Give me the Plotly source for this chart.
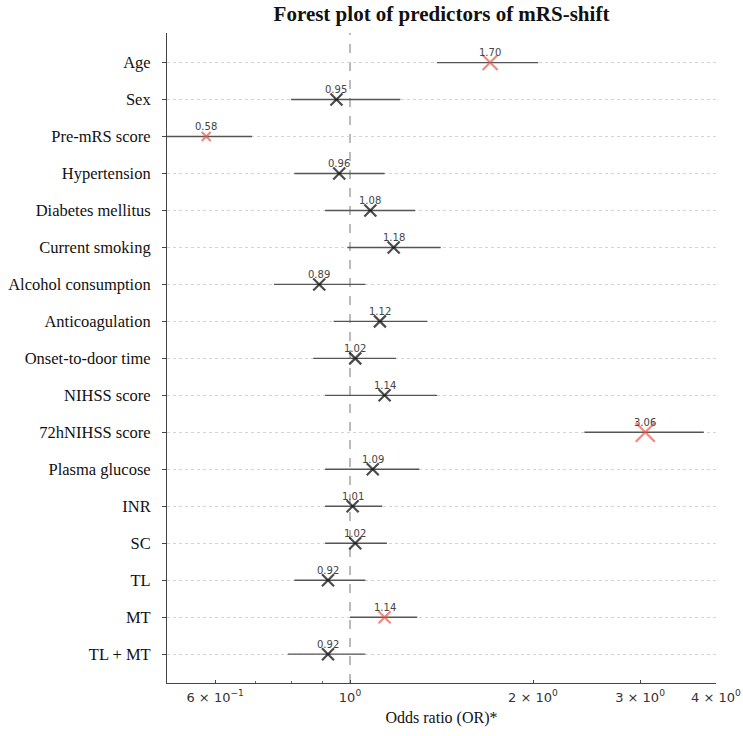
import math
import plotly.graph_objects as go

categories = ["Age", "Sex", "Pre-mRS score", "Hypertension", "Diabetes mellitus",
              "Current smoking", "Alcohol consumption", "Anticoagulation",
              "Onset-to-door time", "NIHSS score", "72hNIHSS score", "Plasma glucose",
              "INR", "SC", "TL", "MT", "TL + MT"]
odds_ratio = [1.70, 0.95, 0.58, 0.96, 1.08, 1.18, 0.89, 1.12, 1.02, 1.14, 3.06, 1.09,
              1.01, 1.02, 0.92, 1.14, 0.92]
ci_lower = [1.39, 0.80, 0.47, 0.81, 0.91, 0.99, 0.75, 0.94, 0.87, 0.91, 2.43, 0.91,
            0.91, 0.91, 0.81, 1.00, 0.79]
ci_upper = [2.04, 1.21, 0.69, 1.14, 1.28, 1.41, 1.06, 1.34, 1.19, 1.39, 3.82, 1.30,
            1.13, 1.15, 1.06, 1.29, 1.06]
significant = [True, False, True, False, False, False, False, False, False, False, True,
               False, False, False, False, True, False]
marker_sizes = [15, 12, 9, 12, 12, 12, 12, 12, 12, 12, 19, 12, 12, 12, 12, 12, 12]
x_tick_vals = [0.6, 1, 2, 3, 4]
x_tick_text = ["6 × 10<sup>−1</sup>", "10<sup>0</sup>", "2 × 10<sup>0</sup>",
               "3 × 10<sup>0</sup>", "4 × 10<sup>0</sup>"]
x_minor_vals = [0.7, 0.8, 0.9]

RED = "#e8584a"
colors = [RED if s else "#000000" for s in significant]

fig = go.Figure()
fig.add_trace(go.Scatter(
    x=odds_ratio, y=categories, mode="markers",
    marker=dict(symbol="x-thin", size=marker_sizes, color=colors,
                line=dict(color=colors, width=2.2)),
    error_x=dict(type="data", symmetric=False,
                 array=[u - v for u, v in zip(ci_upper, odds_ratio)],
                 arrayminus=[v - l for v, l in zip(odds_ratio, ci_lower)],
                 color="#555555", thickness=1.4, width=0),
    showlegend=False, hoverinfo="skip",
))

for c, v in zip(categories, odds_ratio):
    fig.add_annotation(x=math.log10(v), y=c, text=f"{v:.2f}", showarrow=False,
                       yshift=10, font=dict(family="DejaVu Sans", size=10, color="#444444"))

fig.add_shape(type="line", xref="x", yref="paper", x0=1, x1=1, y0=0, y1=1,
              line=dict(color="#bbbbbb", width=2, dash="dash"), layer="below")

fig.update_layout(
    width=743, height=736,
    margin=dict(l=167, r=27, t=33, b=53),
    paper_bgcolor="white", plot_bgcolor="white",
    title=dict(text="<b>Forest plot of predictors of mRS-shift</b>", x=0.5, xref="paper",
               xanchor="center", y=0.981, yref="container", yanchor="middle",
               font=dict(family="Liberation Serif", size=21, color="#111111")),
    xaxis=dict(type="log", range=[math.log10(0.5), math.log10(4)], automargin=False,
               tickvals=x_tick_vals, ticktext=x_tick_text, ticklabeloverflow="allow",
               ticks="inside", ticklen=3, tickcolor="#444444", ticklabelstandoff=2,
               minor=dict(tickvals=x_minor_vals, ticks="inside", ticklen=2, tickcolor="#666666"),
               showgrid=False, zeroline=False,
               showline=True, linecolor="#444444", linewidth=1,
               tickfont=dict(family="DejaVu Sans", size=13, color="#333333"),
               title=dict(text="Odds ratio (OR)*", standoff=8,
                          font=dict(family="Liberation Serif", size=16, color="#111111"))),
    yaxis=dict(type="category", categoryorder="array", categoryarray=categories,
               range=[len(categories) - 1 + 0.78, -0.8], automargin=False,
               ticks="outside", ticklen=4, tickcolor="#444444", ticklabelstandoff=8,
               showgrid=True, gridcolor="#d4d4d4", griddash="dot", gridwidth=1,
               showline=True, linecolor="#444444", linewidth=1, zeroline=False,
               tickfont=dict(family="Liberation Serif", size=16.5, color="#111111")),
)

fig.write_html("out.html")
